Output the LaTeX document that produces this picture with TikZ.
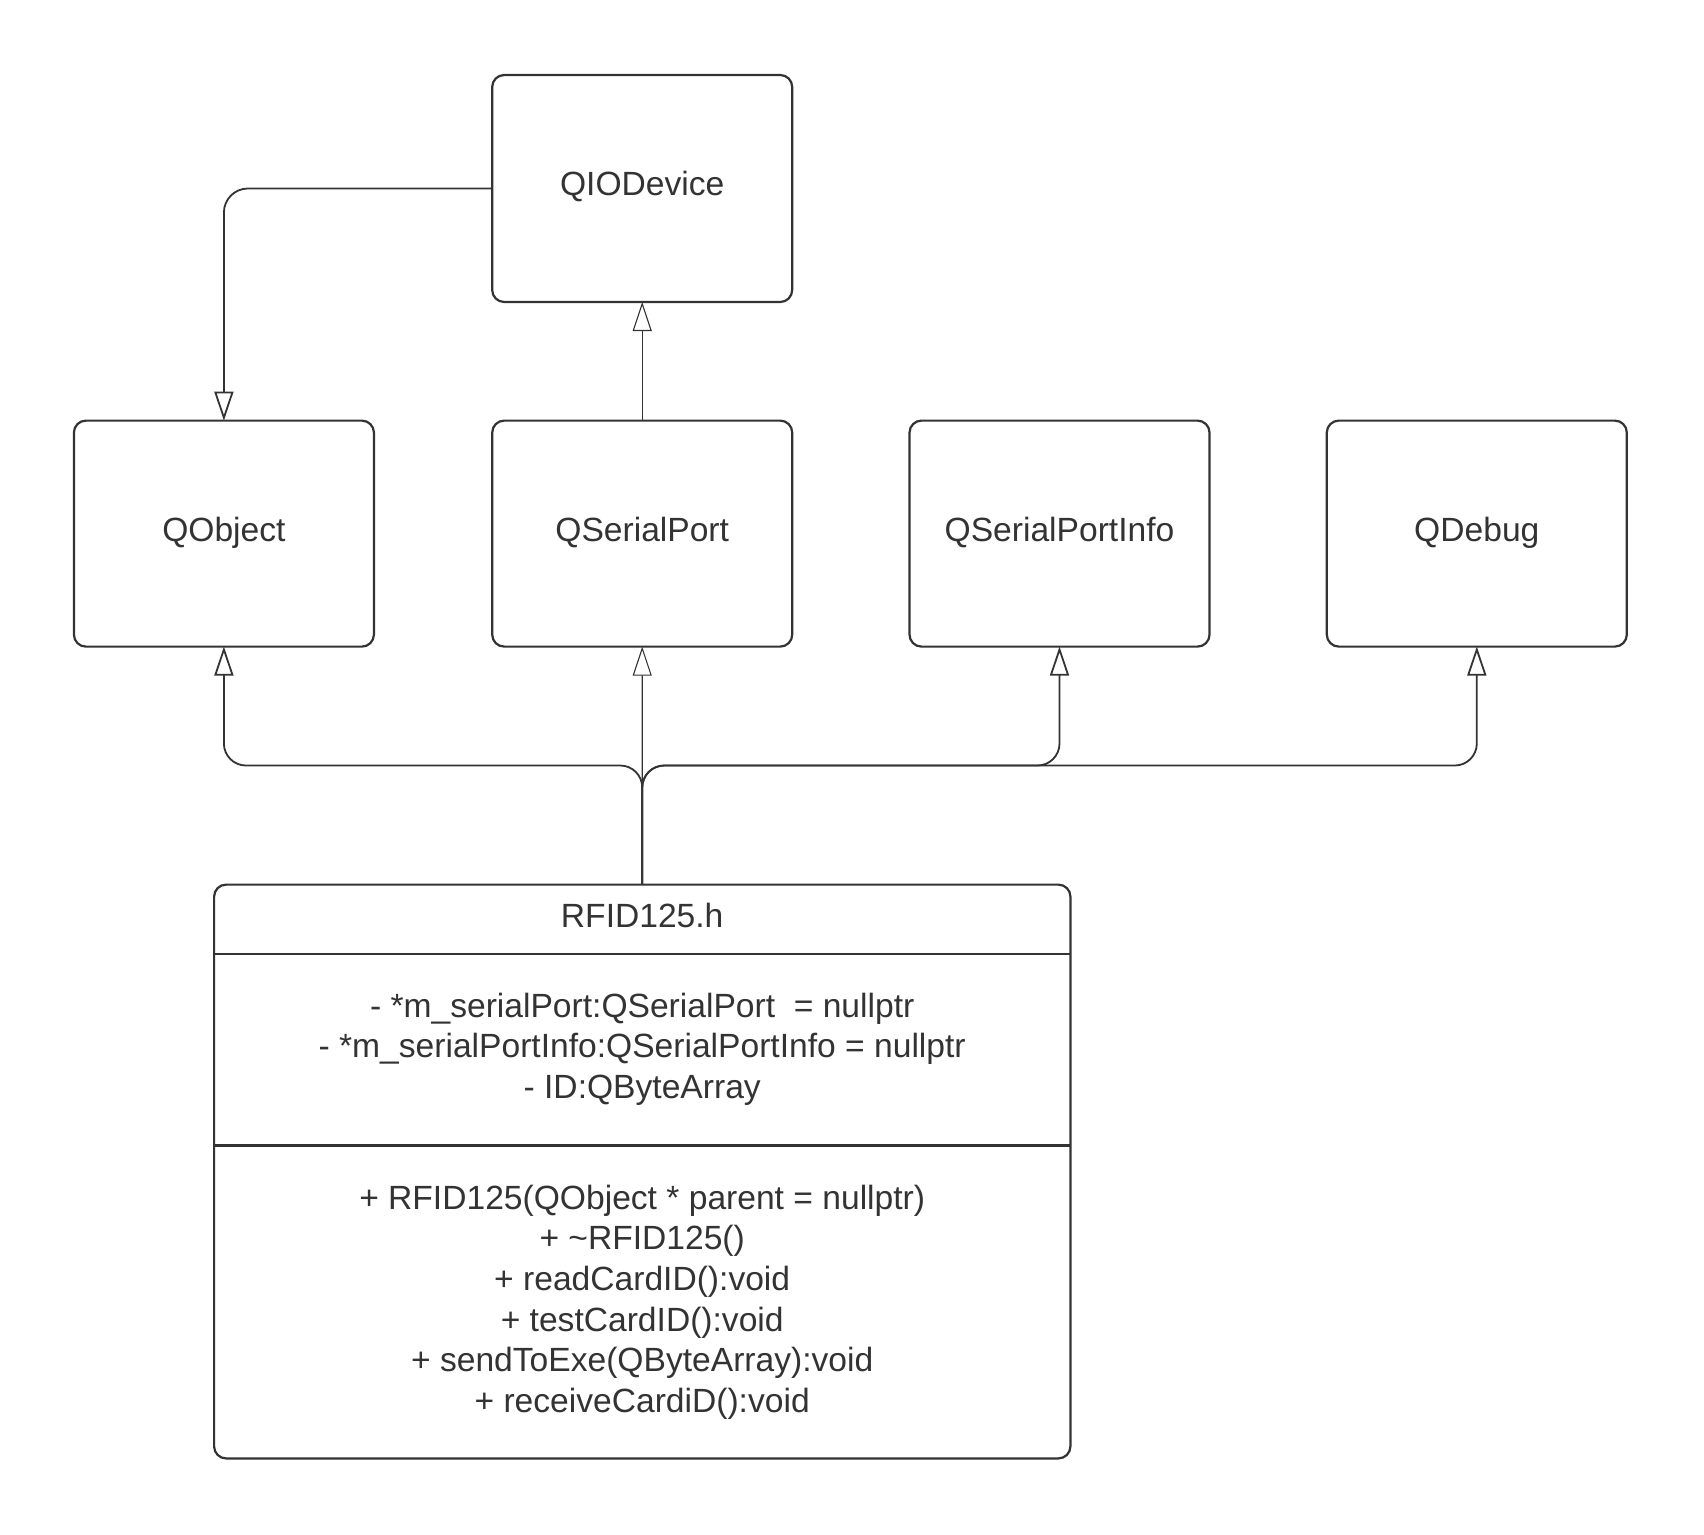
\documentclass[tikz,border=0pt]{standalone}
\usepackage{fontspec}
\setmainfont{Liberation Sans}
\usetikzlibrary{arrows.meta}
\definecolor{ink}{HTML}{333333}
\begin{document}
\begin{tikzpicture}[x=1pt,y=-1pt,
  cls/.style={draw=ink, line width=2.2pt, rounded corners=12pt, outer sep=0pt, inner sep=0pt},
  txt/.style={text=ink, anchor=base, inner sep=0pt, font=\fontsize{33.6}{40.7}\selectfont},
  inh/.style={draw=ink, line width=1.8pt, -{Triangle[open, length=29pt, width=19pt]}},
  thinline/.style={line width=1.1pt}]
\useasboundingbox[fill=white] (0,0) rectangle (1704,1534);

% class boxes
\node[cls, minimum width=300pt, minimum height=227pt] (qio)  at (642.2,188.5) {};
\node[cls, minimum width=300pt, minimum height=226pt] (qobj) at (223.9,533.6) {};
\node[cls, minimum width=300pt, minimum height=226pt] (qsp)  at (642.2,533.6) {};
\node[cls, minimum width=300pt, minimum height=226pt] (qspi) at (1059.5,533.6) {};
\node[cls, minimum width=300pt, minimum height=226pt] (qdbg) at (1476.8,533.6) {};
\node[cls, minimum width=856.3pt, minimum height=573.8pt] (rfid) at (642.25,1171.5) {};

% compartment dividers of the RFID125 class
\draw[ink, line width=2.2pt] ([yshift=-69.5pt]rfid.north west) -- ([yshift=-69.5pt]rfid.north east);
\draw[ink, line width=2.2pt] ([yshift=-260.8pt]rfid.north west) -- ([yshift=-260.8pt]rfid.north east);

% class names
\node[txt] (qio-t)  at (642.2,195.7)  {QIODevice};
\node[txt] (qobj-t) at (223.9,541.2)  {QObject};
\node[txt] (qsp-t)  at (642.2,541.2)  {QSerialPort};
\node[txt] (qspi-t) at (1059.5,541.2) {QSerialPortInfo};
\node[txt] (qdbg-t) at (1476.8,541.2) {QDebug};
\node[txt] (rfid-t) at (642.2,927)    {RFID125.h};

% attributes
\node[txt] (a1) at (642.2,1017.2) {- *m\_serialPort:QSerialPort\ \ = nullptr};
\node[txt] (a2) at (642.2,1057.5) {- *m\_serialPortInfo:QSerialPortInfo = nullptr};
\node[txt] (a3) at (642.2,1098.7) {- ID:QByteArray};

% operations
\node[txt] (m1) at (642.2,1209.5) {+ RFID125(QObject * parent = nullptr)};
\node[txt] (m2) at (642.2,1249.7) {+ \textasciitilde RFID125()};
\node[txt] (m3) at (642.2,1290.0) {+ readCardID():void};
\node[txt] (m4) at (642.2,1331.3) {+ testCardID():void};
\node[txt] (m5) at (642.2,1371.5) {+ sendToExe(QByteArray):void};
\node[txt] (m6) at (642.2,1412.8) {+ receiveCardiD():void};

% inheritance connectors
\coordinate (bus) at (642.2,765.5);
\draw[inh, rounded corners=24pt] (qio.west) -| (qobj.north);
\draw[inh, thinline] (qsp.north) -- (qio.south);
\draw[inh, rounded corners=22pt] (rfid.north) |- (bus -| qobj.south) -- (qobj.south);
\draw[inh, thinline] (rfid.north) -- (qsp.south);
\draw[inh, rounded corners=22pt] (rfid.north) |- (bus -| qspi.south) -- (qspi.south);
\draw[inh, rounded corners=22pt] (rfid.north) |- (bus -| qdbg.south) -- (qdbg.south);
\end{tikzpicture}
\end{document}
